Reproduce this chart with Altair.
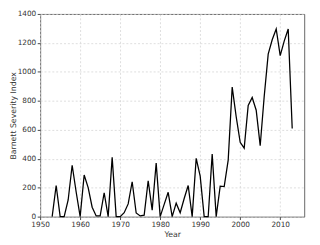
import altair as alt
import pandas as pd

years = list(range(1953, 2014))
values = [0, 215, 0, 0, 115, 355, 170, 0, 288, 200, 65, 5, 5, 165, 0, 410, 0,
          0, 27, 88, 241, 25, 5, 10, 248, 45, 370, 0, 85, 168, 0, 93, 27, 125,
          215, 0, 403, 280, 0, 0, 432, 0, 210, 208, 390, 895, 690, 513, 473,
          768, 823, 735, 490, 830, 1122, 1222, 1296, 1112, 1212, 1296, 609]

df = pd.DataFrame({"Year": years, "Index": values})

x_ticks = [1950, 1960, 1970, 1980, 1990, 2000, 2010]
y_ticks = [0, 200, 400, 600, 800, 1000, 1200, 1400]

chart = alt.Chart(df).mark_line(color="black", strokeWidth=1.3).encode(
    x=alt.X("Year:Q", scale=alt.Scale(domain=[1950, 2016], nice=False, zero=False),
            axis=alt.Axis(values=x_ticks, format="d", title="Year", labelFlush=False)),
    y=alt.Y("Index:Q", scale=alt.Scale(domain=[0, 1400], nice=False),
            axis=alt.Axis(values=y_ticks, format="d", title="Barnett Severity Index",
                          labelFlush=False)),
).properties(
    width=271, height=208,
    autosize=alt.AutoSizeParams(type="none"),
    padding={"left": 33, "top": 3, "right": 8, "bottom": 26},
).configure_view(
    stroke="#666666", strokeWidth=1
).configure_axis(
    labelFont="DejaVu Sans", labelFontSize=7.5, labelColor="#333333",
    titleFont="DejaVu Sans", titleFontSize=8, titleFontWeight="normal", titleColor="#333333",
    grid=True, gridColor="#d5d5d5", gridDash=[2, 2], gridWidth=0.8,
    domain=False, tickColor="#444444", tickSize=3, labelPadding=1.5,
).configure_axisX(
    titlePadding=2
).configure_axisY(
    titlePadding=0
)

chart.save("out.html", embed_options={"renderer": "svg", "actions": False})
